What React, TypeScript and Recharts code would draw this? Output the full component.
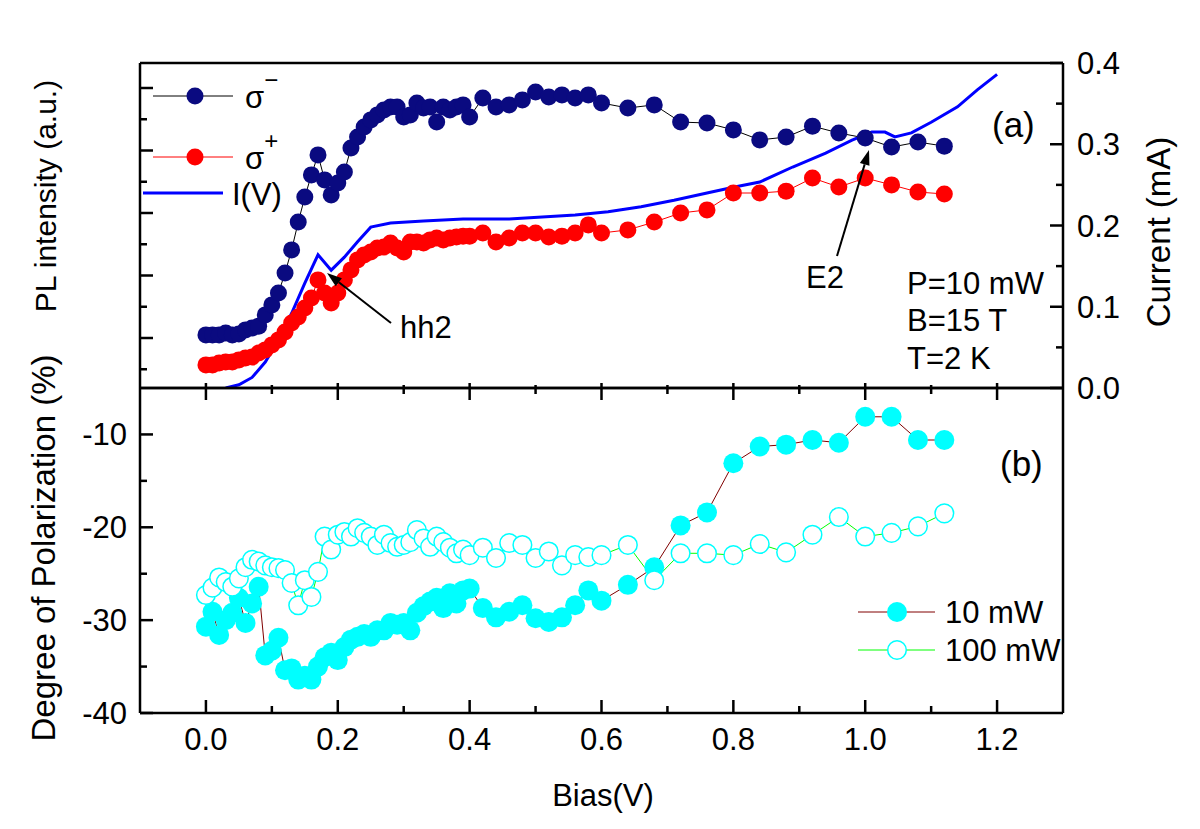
import React from "react";
import { ComposedChart, Line, XAxis, YAxis, ReferenceLine } from "recharts";

const FONT = "Arial, 'Liberation Sans', Helvetica, sans-serif";

// Bias values shared by the PL spectra and the polarization curves
const biasPoints = [
  0.0, 0.01, 0.02, 0.03, 0.04, 0.05, 0.06, 0.07, 0.08, 0.09, 0.1, 0.11, 0.12, 0.13, 0.14,
  0.15, 0.16, 0.17, 0.18, 0.19, 0.2, 0.21, 0.22, 0.23, 0.24, 0.25, 0.26, 0.27, 0.28, 0.29,
  0.3, 0.31, 0.32, 0.33, 0.34, 0.35, 0.36, 0.37, 0.38, 0.39, 0.4, 0.42, 0.44, 0.46, 0.48,
  0.5, 0.52, 0.54, 0.56, 0.58, 0.6, 0.64, 0.68, 0.72, 0.76, 0.8, 0.84, 0.88, 0.92, 0.96,
  1.0, 1.04, 1.08, 1.12,
];

// PL intensity (a.u.)
const sigmaMinus = [
  1.1, 1.1, 1.1, 1.16, 1.1, 1.13, 1.26, 1.32, 1.38, 1.74, 2.06, 2.44, 3.08, 3.82, 4.71,
  5.51, 6.22, 6.86, 6.06, 5.58, 5.96, 6.31, 7.08, 7.43, 7.75, 7.98, 8.14, 8.3, 8.39, 8.39,
  8.07, 8.14, 8.52, 8.36, 8.39, 7.91, 8.39, 8.3, 8.39, 8.46, 8.07, 8.68, 8.39, 8.46, 8.62,
  8.87, 8.71, 8.78, 8.68, 8.78, 8.52, 8.36, 8.46, 7.91, 7.88, 7.66, 7.34, 7.43, 7.78, 7.56,
  7.4, 7.11, 7.27, 7.14,
];
const sigmaPlus = [
  0.14, 0.14, 0.2, 0.23, 0.23, 0.3, 0.36, 0.39, 0.52, 0.62, 0.78, 0.94, 1.19, 1.48, 1.67,
  1.96, 2.28, 2.86, 2.44, 2.12, 2.44, 2.86, 3.18, 3.5, 3.66, 3.75, 3.88, 3.91, 4.04, 3.88,
  3.75, 4.07, 4.07, 4.04, 4.14, 4.2, 4.14, 4.2, 4.23, 4.26, 4.26, 4.36, 4.07, 4.2, 4.36,
  4.36, 4.23, 4.26, 4.36, 4.62, 4.36, 4.46, 4.71, 5.0, 5.1, 5.64, 5.64, 5.7, 6.12, 5.83,
  6.12, 5.9, 5.67, 5.61,
];

// Degree of polarization (%)
const dop10mW = [
  -30.7, -29.1, -31.6, -30.0, -29.2, -27.6, -30.3, -28.2, -26.4, -33.8, -33.3, -31.9, -35.4,
  -35.2, -36.4, -36.0, -36.4, -35.0, -34.0, -33.5, -34.3, -32.9, -32.1, -31.8, -31.5, -31.8,
  -31.1, -31.1, -30.3, -30.5, -30.3, -31.1, -29.2, -28.5, -28.0, -27.6, -28.7, -27.1, -28.2,
  -26.8, -26.6, -28.7, -29.7, -29.1, -28.4, -29.8, -30.2, -29.7, -28.4, -26.8, -27.9, -26.2,
  -24.3, -19.8, -18.4, -13.1, -11.3, -11.1, -10.6, -10.9, -8.1, -8.1, -10.6, -10.6,
];
const dop100mW = [
  -27.3, -26.5, -25.4, -25.9, -26.4, -25.5, -24.3, -23.5, -23.7, -24.1, -24.3, -24.4, -24.6,
  -26.0, -28.4, -25.7, -27.5, -24.8, -21.0, -22.4, -20.8, -20.5, -21.0, -20.1, -20.6, -21.0,
  -21.9, -20.8, -21.7, -22.1, -21.9, -21.6, -20.3, -21.2, -22.1, -21.0, -21.6, -22.2, -22.8,
  -22.4, -23.0, -22.2, -23.3, -21.7, -21.9, -23.3, -22.6, -24.1, -23.0, -23.2, -23.0, -21.9,
  -25.7, -22.8, -22.8, -23.0, -21.8, -22.7, -20.8, -18.9, -21.0, -20.6, -19.9, -18.5,
];

// I(V) curve
const ivBias = [
  0.03, 0.05, 0.07, 0.09, 0.11, 0.13, 0.15, 0.17, 0.19, 0.21, 0.23, 0.25, 0.28, 0.33, 0.39,
  0.46, 0.56, 0.61, 0.66, 0.71, 0.76, 0.8, 0.84, 0.89, 0.94, 0.98, 1.01, 1.03, 1.045, 1.07,
  1.1, 1.14, 1.17, 1.2,
];
const ivCurrent = [
  0.0, 0.004, 0.013, 0.032, 0.059, 0.092, 0.129, 0.164, 0.145, 0.161, 0.18, 0.198, 0.203,
  0.2055, 0.208, 0.208, 0.213, 0.217, 0.223, 0.231, 0.24, 0.247, 0.2535, 0.272, 0.289, 0.305,
  0.315, 0.315, 0.309, 0.314, 0.327, 0.346, 0.367, 0.386,
];

const biasTicks = [0, 0.1, 0.2, 0.3, 0.4, 0.5, 0.6, 0.7, 0.8, 0.9, 1.0, 1.1, 1.2];
const plTicks = [0, 1, 2, 3, 4, 5, 6, 7, 8, 9];
const currentTicks = [0, 0.05, 0.1, 0.15, 0.2, 0.25, 0.3, 0.35, 0.4];
const dopTicks = [-40, -35, -30, -25, -20, -15, -10];

const PL_DOMAIN: [number, number] = [-0.6, 9.8];
const DOP_DOMAIN: [number, number] = [-40, -5];

const sigmaData = biasPoints.map((b, i) => ({ bias: b, minus: sigmaMinus[i], plus: sigmaPlus[i] }));
const ivData = ivBias.map((b, i) => ({ bias: b, current: ivCurrent[i] }));
const dopData = biasPoints.map((b, i) => ({ bias: b, p10: dop10mW[i], p100: dop100mW[i] }));

const axisStyle = { stroke: "#000", strokeWidth: 2.5 };

const onStep = (v: number, step: number) => Math.abs(v / step - Math.round(v / step)) < 1e-6;

type Orient = "left" | "right" | "bottom";

// ticks drawn inward, like the Origin plot
function inTick(
  orient: Orient,
  isMajor: (v: number) => boolean,
  long: number,
  short: number,
  label?: (v: number) => string
) {
  return (props: any) => {
    const { x, y, payload } = props;
    const v = payload.value;
    const major = isMajor(v);
    const len = major ? long : short;
    let x2 = x;
    if (orient === "left") x2 = x + len;
    if (orient === "right") x2 = x - len;
    let text = null;
    if (major && label) {
      if (orient === "left")
        text = <text x={x - 13} y={y + 11} textAnchor="end" fontSize={31} fontFamily={FONT} fill="#000">{label(v)}</text>;
      if (orient === "right")
        text = <text x={x + 14} y={y + 11} textAnchor="start" fontSize={31} fontFamily={FONT} fill="#000">{label(v)}</text>;
      if (orient === "bottom")
        text = <text x={x} y={y + 37} textAnchor="middle" fontSize={31} fontFamily={FONT} fill="#000">{label(v)}</text>;
    }
    return (
      <g>
        {orient !== "bottom" && <line x1={x} y1={y} x2={x2} y2={y} stroke="#000" strokeWidth={2.5} />}
        {text}
      </g>
    );
  };
}

// inward x ticks as short segments in data units: px / (px per unit)
function xTickMarks(yAxisId: string, edge: number, pxPerUnit: number, dir: 1 | -1, long: number, short: number) {
  return biasTicks.map((v) => {
    const len = onStep(v, 0.2) ? long : short;
    return (
      <ReferenceLine
        key={`${yAxisId}-${edge}-${v}`}
        yAxisId={yAxisId}
        segment={[
          { x: v, y: edge },
          { x: v, y: edge + (dir * len) / pxPerUnit },
        ]}
        stroke="#000"
        strokeWidth={2.5}
      />
    );
  });
}

function Arrow({ x1, y1, x2, y2 }: { x1: number; y1: number; x2: number; y2: number }) {
  const dx = x2 - x1;
  const dy = y2 - y1;
  const L = Math.hypot(dx, dy);
  const ux = dx / L;
  const uy = dy / L;
  const hl = 15;
  const hw = 5;
  const bx = x2 - ux * hl;
  const by = y2 - uy * hl;
  const pts = `${x2},${y2} ${bx - uy * hw},${by + ux * hw} ${bx + uy * hw},${by - ux * hw}`;
  return (
    <g>
      <line x1={x1} y1={y1} x2={bx} y2={by} stroke="#000" strokeWidth={2} />
      <polygon points={pts} fill="#000" />
    </g>
  );
}

const NAVY = "#0a0a80";
const CYAN = "#00ffff";

export default function App() {
  return (
    <div style={{ position: "absolute", left: 0, top: 0, width: 1200, height: 829, background: "#fff" }}>
      {/* (a) PL intensity and current */}
      <div style={{ position: "absolute", left: 0, top: 0 }}>
        <ComposedChart width={1200} height={410} data={sigmaData} margin={{ top: 62, right: 77, bottom: 21, left: 80 }}>
          <XAxis
            dataKey="bias"
            type="number"
            domain={[-0.1, 1.3]}
            ticks={biasTicks}
            interval={0}
            height={1}
            tick={false}
            tickLine={false}
            axisLine={axisStyle}
            allowDataOverflow
          />
          <XAxis
            xAxisId="frameTop"
            dataKey="bias"
            orientation="top"
            type="number"
            domain={[-0.1, 1.3]}
            height={1}
            tick={false}
            tickLine={false}
            axisLine={axisStyle}
            allowDataOverflow
          />
          <YAxis
            yAxisId="pl"
            type="number"
            domain={PL_DOMAIN}
            ticks={plTicks}
            interval={0}
            width={60}
            tickSize={0}
            tickMargin={0}
            tickLine={false}
            axisLine={axisStyle}
            tick={inTick("left", (v) => Math.round(v) % 2 === 1, 13, 7)}
            allowDataOverflow
          />
          <YAxis
            yAxisId="cur"
            orientation="right"
            type="number"
            domain={[0, 0.4]}
            ticks={currentTicks}
            interval={0}
            width={60}
            tickSize={0}
            tickMargin={0}
            tickLine={false}
            axisLine={axisStyle}
            tick={inTick("right", (v) => onStep(v, 0.1), 13, 7, (v) => v.toFixed(1))}
            allowDataOverflow
          />
          {xTickMarks("pl", PL_DOMAIN[0], 31.25, 1, 5, 3)}
          <Line
            yAxisId="pl"
            dataKey="plus"
            type="linear"
            stroke="#ff0000"
            strokeWidth={1}
            dot={{ r: 8.5, fill: "#ff0000", stroke: "none" }}
            activeDot={false}
            isAnimationActive={false}
          />
          <Line
            yAxisId="cur"
            data={ivData}
            dataKey="current"
            type="linear"
            stroke="#0000ff"
            strokeWidth={3}
            dot={false}
            activeDot={false}
            isAnimationActive={false}
          />
          <Line
            yAxisId="pl"
            dataKey="minus"
            type="linear"
            stroke="#000"
            strokeWidth={1}
            dot={{ r: 8.5, fill: NAVY, stroke: "none" }}
            activeDot={false}
            isAnimationActive={false}
          />
        </ComposedChart>
      </div>

      {/* (b) degree of polarization */}
      <div style={{ position: "absolute", left: 0, top: 380 }}>
        <ComposedChart width={1200} height={449} data={dopData} margin={{ top: 7, right: 77, bottom: 115, left: 80 }}>
          <XAxis
            dataKey="bias"
            type="number"
            domain={[-0.1, 1.3]}
            ticks={biasTicks}
            interval={0}
            height={1}
            tickSize={0}
            tickMargin={0}
            tickLine={false}
            axisLine={axisStyle}
            tick={inTick("bottom", (v) => onStep(v, 0.2), 13, 7, (v) => v.toFixed(1))}
            allowDataOverflow
          />
          <XAxis
            xAxisId="frameTop"
            dataKey="bias"
            orientation="top"
            type="number"
            domain={[-0.1, 1.3]}
            height={1}
            tick={false}
            tickLine={false}
            axisLine={axisStyle}
            allowDataOverflow
          />
          <YAxis
            yAxisId="dop"
            type="number"
            domain={DOP_DOMAIN}
            ticks={dopTicks}
            interval={0}
            width={60}
            tickSize={0}
            tickMargin={0}
            tickLine={false}
            axisLine={axisStyle}
            tick={inTick("left", (v) => onStep(v, 10), 13, 7, (v) => String(v))}
            allowDataOverflow
          />
          <YAxis
            yAxisId="frameR"
            orientation="right"
            type="number"
            domain={DOP_DOMAIN}
            width={60}
            tick={false}
            tickLine={false}
            axisLine={axisStyle}
            allowDataOverflow
          />
          {xTickMarks("dop", DOP_DOMAIN[0], 9.2857, 1, 13, 7)}
          {xTickMarks("dop", DOP_DOMAIN[1], 9.2857, -1, 12, 6)}
          <Line
            yAxisId="dop"
            dataKey="p10"
            type="linear"
            stroke="#800000"
            strokeWidth={1}
            dot={{ r: 10, fill: CYAN, stroke: "none" }}
            activeDot={false}
            isAnimationActive={false}
          />
          <Line
            yAxisId="dop"
            dataKey="p100"
            type="linear"
            stroke="#00ff00"
            strokeWidth={1}
            dot={{ r: 9.3, fill: "#fff", stroke: CYAN, strokeWidth: 1.5 }}
            activeDot={false}
            isAnimationActive={false}
          />
        </ComposedChart>
      </div>

      {/* titles, legends, annotations */}
      <svg
        width={1200}
        height={829}
        style={{ position: "absolute", left: 0, top: 0, pointerEvents: "none" }}
        fontFamily={FONT}
        fill="#000"
      >
        <text transform="translate(56,196) rotate(-90)" textAnchor="middle" fontSize={30}>PL intensity (a.u.)</text>
        <text transform="translate(55,548) rotate(-90)" textAnchor="middle" fontSize={33}>Degree of Polarization (%)</text>
        <text transform="translate(1170,232) rotate(-90)" textAnchor="middle" fontSize={33}>Current (mA)</text>
        <text x={603} y={806} textAnchor="middle" fontSize={31}>Bias(V)</text>

        <text x={992} y={137} fontSize={35}>(a)</text>
        <text x={1000} y={476} fontSize={35}>(b)</text>
        <text x={907} y={294} fontSize={31}>P=10 mW</text>
        <text x={907} y={331} fontSize={31}>B=15 T</text>
        <text x={907} y={369} fontSize={31}>T=2 K</text>

        <text x={825} y={288} textAnchor="middle" fontSize={31}>E2</text>
        <Arrow x1={837} y1={256} x2={869} y2={150} />
        <text x={400} y={338} fontSize={31}>hh2</text>
        <Arrow x1={391} y1={323} x2={327} y2={273} />

        {/* legend (a) */}
        <line x1={153} y1={96} x2={233} y2={96} stroke="#000" strokeWidth={1} />
        <circle cx={195} cy={96} r={8.5} fill={NAVY} />
        <text x={245} y={108} fontSize={31}>
          σ<tspan dy={-20} fontSize={24}>−</tspan>
        </text>
        <line x1={153} y1={157} x2={233} y2={157} stroke="#ff0000" strokeWidth={1} />
        <circle cx={195} cy={157} r={8.5} fill="#ff0000" />
        <text x={245} y={169} fontSize={31}>
          σ<tspan dy={-20} fontSize={24}>+</tspan>
        </text>
        <line x1={143} y1={193} x2={223} y2={193} stroke="#0000ff" strokeWidth={3} />
        <text x={232} y={205} fontSize={31}>I(V)</text>

        {/* legend (b) */}
        <line x1={858} y1={612} x2={935} y2={612} stroke="#800000" strokeWidth={1} />
        <circle cx={897} cy={612} r={10} fill={CYAN} />
        <text x={945} y={623} fontSize={31}>10 mW</text>
        <line x1={858} y1={650} x2={935} y2={650} stroke="#00ff00" strokeWidth={1} />
        <circle cx={897} cy={650} r={9.3} fill="#fff" stroke={CYAN} strokeWidth={1.5} />
        <text x={945} y={661} fontSize={31}>100 mW</text>
      </svg>
    </div>
  );
}
